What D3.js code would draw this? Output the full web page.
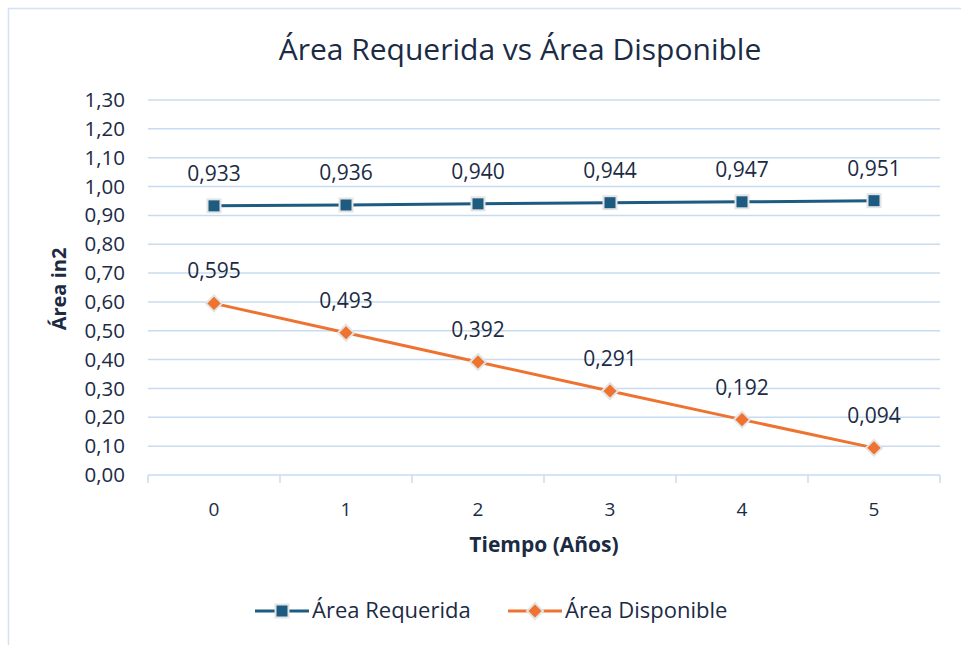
<!DOCTYPE html>
<html>
<head>
<meta charset="utf-8">
<script src="https://cdn.jsdelivr.net/npm/d3@7"></script>
<style>
  html, body { margin: 0; padding: 0; background: #fff; }
  svg { display: block; }
  text { fill: #1b2b44; }
</style>
</head>
<body>
<svg id="chart" width="961" height="645"></svg>
<script>
// Data
const years = ["0", "1", "2", "3", "4", "5"];
const areaRequerida = [0.933, 0.936, 0.940, 0.944, 0.947, 0.951];
const areaDisponible = [0.595, 0.493, 0.392, 0.291, 0.192, 0.094];
const yTicks = [0, 0.1, 0.2, 0.3, 0.4, 0.5, 0.6, 0.7, 0.8, 0.9, 1.0, 1.1, 1.2, 1.3];
const seriesNames = ["Área Requerida", "Área Disponible"];

const colors = { req: "#1d5b80", disp: "#ee7330", grid: "#c8dcf1", text: "#1b2b44" };
const font = "'Open Sans', 'Noto Sans', sans-serif";

const svg = d3.select("#chart");

// chart frame
svg.append("rect")
  .attr("x", 8.5).attr("y", 8.5)
  .attr("width", 1000).attr("height", 700)
  .attr("fill", "none").attr("stroke", "#d3e2f4").attr("stroke-width", 1.5);

const x = d3.scaleBand().domain(years).range([148, 940]);
const y = d3.scaleLinear().domain([0, 1.3]).range([475, 100]);
const fmt = v => d3.format(".2f")(v).replace(".", ",");
const fmt3 = v => d3.format(".3f")(v).replace(".", ",");

// horizontal gridlines
svg.append("g")
  .selectAll("line")
  .data(yTicks.filter(t => t > 0))
  .join("line")
  .attr("x1", 148).attr("x2", 940)
  .attr("y1", d => y(d)).attr("y2", d => y(d))
  .attr("stroke", colors.grid).attr("stroke-width", 1.5);

// y axis labels
const yAxis = d3.axisLeft(y).tickValues(yTicks).tickFormat(fmt).tickSize(0).tickPadding(23);
const gy = svg.append("g").attr("transform", "translate(148,0)").call(yAxis);
gy.select(".domain").remove();
gy.selectAll("text").attr("font-family", font).attr("font-size", 20.5).attr("fill", colors.text);

// x axis with ticks at band boundaries
const gx = svg.append("g").attr("transform", "translate(0,475)");
gx.append("line").attr("x1", 148).attr("x2", 940).attr("stroke", colors.grid).attr("stroke-width", 1.5);
const bounds = years.map(d => x(d)).concat([x.range()[1]]);
gx.selectAll("line.tick").data(bounds).join("line").attr("class", "tick")
  .attr("x1", d => d).attr("x2", d => d).attr("y1", 0).attr("y2", 8)
  .attr("stroke", colors.grid).attr("stroke-width", 1.5);
gx.selectAll("text").data(years).join("text")
  .attr("x", d => x(d) + x.bandwidth() / 2).attr("y", 41)
  .attr("text-anchor", "middle")
  .attr("font-family", font).attr("font-size", 19).attr("fill", colors.text)
  .text(d => d);

// axis titles
svg.append("text").attr("x", 544).attr("y", 552).attr("text-anchor", "middle")
  .attr("font-family", font).attr("font-size", 21).attr("font-weight", "bold")
  .attr("fill", colors.text).text("Tiempo (Años)");
svg.append("text").attr("transform", "translate(66,289) rotate(-90)").attr("text-anchor", "middle")
  .attr("font-family", font).attr("font-size", 20).attr("font-weight", "bold")
  .attr("fill", colors.text).text("Área in2");

// title
svg.append("text").attr("x", 520).attr("y", 60).attr("text-anchor", "middle")
  .attr("font-family", font).attr("font-size", 30).attr("fill", colors.text)
  .text("Área Requerida vs Área Disponible");

const cx = d => x(d) + x.bandwidth() / 2;
const line = d3.line().x((d, i) => cx(years[i])).y(d => y(d));

function drawMarker(g, type, color, px, py) {
  if (type === "square") {
    g.append("rect").attr("x", px - 6.5).attr("y", py - 6.5).attr("width", 13).attr("height", 13)
      .attr("fill", color).attr("stroke", "#e4e4e4").attr("stroke-width", 2);
  } else {
    const r = 8;
    g.append("path")
      .attr("d", `M${px},${py - r}L${px + r},${py}L${px},${py + r}L${px - r},${py}Z`)
      .attr("fill", color).attr("stroke", "#e4e4e4").attr("stroke-width", 2);
  }
}

function drawSeries(values, color, type) {
  const g = svg.append("g");
  g.append("path").datum(values).attr("d", line)
    .attr("fill", "none").attr("stroke", color).attr("stroke-width", 3);
  values.forEach((v, i) => drawMarker(g, type, color, cx(years[i]), y(v)));
  g.selectAll("text").data(values).join("text")
    .attr("x", (d, i) => cx(years[i])).attr("y", d => y(d) - 25)
    .attr("text-anchor", "middle")
    .attr("font-family", font).attr("font-size", 21).attr("fill", colors.text)
    .text(d => fmt3(d));
}

drawSeries(areaRequerida, colors.req, "square");
drawSeries(areaDisponible, colors.disp, "diamond");

// legend
const lg = svg.append("g");
const legendItems = [
  { name: seriesNames[0], color: colors.req, type: "square", x0: 255 },
  { name: seriesNames[1], color: colors.disp, type: "diamond", x0: 508 }
];
legendItems.forEach(it => {
  lg.append("line").attr("x1", it.x0).attr("x2", it.x0 + 54).attr("y1", 611).attr("y2", 611)
    .attr("stroke", it.color).attr("stroke-width", 3);
  drawMarker(lg, it.type, it.color, it.x0 + 27, 611);
  lg.append("text").attr("x", it.x0 + 57).attr("y", 618)
    .attr("font-family", font).attr("font-size", 22).attr("fill", colors.text).text(it.name);
});
</script>
</body>
</html>
